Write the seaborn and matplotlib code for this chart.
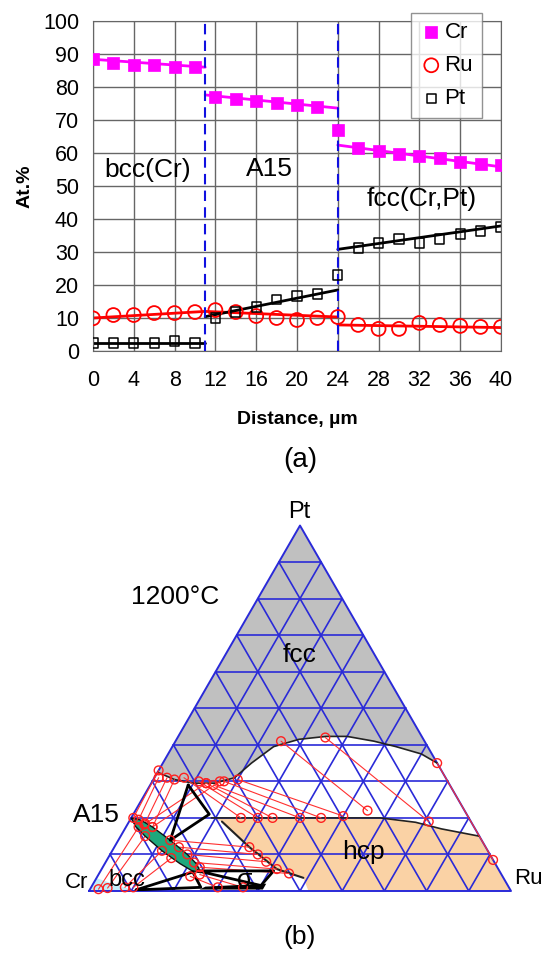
import numpy as np
import pandas as pd
import matplotlib
matplotlib.use("Agg")
import matplotlib.pyplot as plt
import seaborn as sns

sns.set_style("white")
plt.rcParams['font.family'] = ['Liberation Sans', 'DejaVu Sans']
plt.rcParams['text.color'] = 'black'
plt.rcParams['axes.labelcolor'] = 'black'
plt.rcParams['xtick.color'] = 'black'
plt.rcParams['ytick.color'] = 'black'

# ---------------- (a) concentration profile ----------------
dist = [0, 2, 4, 6, 8, 10, 12, 14, 16, 18, 20, 22, 24, 26, 28, 30, 32, 34, 36, 38, 40]
cr = [88.4, 87.3, 86.7, 86.7, 86.1, 86.1, 77.0, 76.4, 75.8, 75.1, 74.5, 73.9, 67.0,
      61.5, 60.6, 59.7, 59.1, 58.5, 57.3, 56.7, 56.4]
ru = [9.9, 10.9, 10.9, 11.5, 11.5, 11.8, 12.4, 11.8, 10.6, 10.0, 9.4, 10.0, 10.3,
      7.9, 6.7, 6.7, 8.5, 7.9, 7.6, 7.3, 7.3]
pt = [2.4, 2.4, 2.4, 2.4, 3.0, 2.4, 10.0, 11.8, 13.3, 15.7, 16.7, 17.3, 23.0,
      31.2, 32.7, 33.9, 32.7, 33.9, 35.5, 36.4, 37.6]

# phase boundaries and fitted trend lines (start, end values per phase)
boundaries = [11, 24]
seg_x = [(0, 11), (11, 24), (24, 40)]
cr_fit = [(88.4, 86.0), (77.6, 73.6), (62.4, 55.8)]
ru_fit = [(10.0, 12.0), (12.0, 10.3), (7.9, 7.1)]
pt_fit = [(2.4, 2.4), (10.4, 18.5), (30.8, 37.9)]
phase_labels = ["bcc(Cr)", "A15", "fcc(Cr,Pt)"]

# ---------------- (b) Cr-Ru-Pt isotherm (at.% Ru, at.% Pt) ----------------
fcc_ru = [0, 5, 10, 15, 19, 21, 24, 29, 35, 40, 47, 53, 60, 65]
fcc_pt = [32.5, 30.5, 29.5, 29.5, 31, 35, 39.5, 41.5, 42.3, 42.3, 41, 39.5, 37.5, 35]
hcp_ru = [19, 30, 45, 59, 68, 75, 85, 100, 52, 49, 41.5, 32, 22]
hcp_pt = [20, 20, 20, 20, 18.8, 17, 15, 0, 0, 3.6, 6, 12, 19]
a15_ru = [0, 2.6, 6.3, 12.3, 18.3, 21.8, 24, 21.5, 17.8, 11.8, 5.8, 2.3]
a15_pt = [20, 19.4, 17.5, 13.9, 10.0, 7.4, 5, 5.6, 7.5, 11.0, 15.0, 17.6]
bcc_ru = [0, 11, 0]
bcc_pt = [0, 0, 3.5]
sigma_ru = [26, 41, 41, 27]
sigma_pt = [0.4, 0.4, 2.0, 1.2]
tri_ru = [[9, 18, 12.3], [23, 41, 40], [11, 22, 26]]
tri_pt = [[29, 21, 13.9], [5.5, 5.5, 1.5], [0.3, 5.2, 1]]
# tie lines: ru1, pt1, ru2, pt2
tie_ru1 = [25, 35, 65, 7, 11, 13, 15, 17, 20, 0, 1, 3, 5, 12.3, 15.3, 18.3, 21, 23,
           2, 4, 8, 10, 22, 24, 13, 16]
tie_pt1 = [41, 42, 35, 31, 30, 29.5, 29, 30, 30.5, 33, 31, 31, 30.5, 13.9, 12, 10, 7.8, 6.5,
           0.5, 0.8, 1, 1, 4, 4.5, 29.5, 30]
tie_ru2 = [55, 71, 91.5, 26, 30, 33.5, 40, 45, 50, 0.5, 2, 4, 6.3, 32, 35, 38, 41.5, 45,
           3, 5.8, 11.8, 15, 30, 36, 4, 6.3]
tie_pt2 = [22, 19, 8.5, 20, 20, 20, 20, 20, 20.5, 20, 19.5, 18.5, 17.5, 12, 10, 8, 6, 4.8,
           17.5, 15, 11, 9, 1, 1, 18.2, 17.5]

H = np.sqrt(3) / 2


def tern(ru_, pt_):
    ru_ = np.asarray(ru_, float) / 100
    pt_ = np.asarray(pt_, float) / 100
    return ru_ + pt_ / 2, pt_ * H


fig = plt.figure(figsize=(5.47, 9.59), dpi=100)
W, HP = 547, 959

# ---- top chart
ax = fig.add_axes([93 / W, 1 - 351 / HP, 408 / W, 330 / HP])
for (x0, x1), c, r, p in zip(seg_x, cr_fit, ru_fit, pt_fit):
    sns.lineplot(x=[x0, x1], y=list(c), color="#ff00ff", lw=2, ax=ax)
    sns.lineplot(x=[x0, x1], y=list(r), color="#ff0000", lw=2, ax=ax)
    sns.lineplot(x=[x0, x1], y=list(p), color="black", lw=2, ax=ax)
sns.scatterplot(x=dist, y=cr, marker="s", s=70, color="#ff00ff", edgecolor="#ff00ff",
                linewidth=0.5, label="Cr", ax=ax, zorder=5)
sns.scatterplot(x=dist, y=ru, marker="o", s=100, facecolors="none", edgecolors="#ff0000",
                linewidth=1.3, label="Ru", ax=ax, zorder=5)
sns.scatterplot(x=dist, y=pt, marker="s", s=45, facecolors="none", edgecolors="black",
                linewidth=1.1, label="Pt", ax=ax, zorder=5)
for b in boundaries:
    ax.axvline(b, color="#1010e0", lw=1.5, ls=(0, (5, 3)), zorder=4)

ax.set_xlim(0, 40)
ax.set_ylim(0, 100)
ax.set_xticks(range(0, 41, 4))
ax.set_yticks(range(0, 101, 10))
ax.grid(True, color="#666666", lw=1)
for s in ax.spines.values():
    s.set_color("#666666")
ax.tick_params(axis="x", labelsize=15.5, length=0, pad=14)
ax.tick_params(axis="y", labelsize=15.5, length=0, pad=10)
ax.set_xlabel("Distance, µm", fontsize=14, fontweight="bold", labelpad=14)
ax.set_ylabel("At.%", fontsize=14, fontweight="bold", labelpad=7)

ax.text(5.4, 55, phase_labels[0], fontsize=19, ha="center", va="center")
ax.text(17.3, 55, phase_labels[1], fontsize=19, ha="center", va="center")
ax.text(32.2, 46, phase_labels[2], fontsize=19, ha="center", va="center")

leg = ax.legend(loc="upper right", bbox_to_anchor=(482 / W, 1 - 13 / HP),
                bbox_transform=fig.transFigure, fontsize=16, frameon=True,
                fancybox=False, edgecolor="#777777", handletextpad=0.1,
                labelspacing=0.55, borderpad=0.4, handlelength=1.0,
                borderaxespad=0)
leg.get_frame().set_linewidth(1)

fig.text(300 / W, 1 - 460 / HP, "(a)", fontsize=20, ha="center", va="center")

# ---- bottom ternary
tx = fig.add_axes([89 / W, 1 - 891 / HP, 422 / W, 422 * H / HP])
tx.set_xlim(0, 1)
tx.set_ylim(0, H)
tx.axis("off")

x, y = tern([0] + fcc_ru + [0], [100] + fcc_pt + [100])
tx.fill(x, y, color="#c0c0c0", lw=0, zorder=1)
x, y = tern(hcp_ru, hcp_pt)
tx.fill(x, y, color="#fad2a5", lw=0, zorder=1)
x, y = tern(bcc_ru, bcc_pt)
tx.fill(x, y, color="#c2eefa", lw=0, zorder=1)

# blue 10 at.% grid
for i in range(1, 10):
    f = i * 10
    for a, b in [(tern([0, 100 - f], [f, f])), (tern([f, f], [0, 100 - f])),
                 (tern([100 - f, 0], [0, 100 - f]))]:
        tx.plot(a, b, color="#2a2ad8", lw=1.2, zorder=2)
x, y = tern([0, 100, 0, 0], [0, 0, 100, 0])
tx.plot(x, y, color="#2a2ad8", lw=1.4, zorder=2, clip_on=False)

x, y = tern(fcc_ru, fcc_pt)
tx.plot(x, y, color="#222222", lw=1.2, zorder=3)
x, y = tern(hcp_ru[:7], hcp_pt[:7])
tx.plot(x, y, color="#222222", lw=1.2, zorder=3)
x, y = tern(hcp_ru[9:], hcp_pt[9:])
tx.plot(x, y, color="#222222", lw=1.5, zorder=3)

for r1, p1, r2, p2 in zip(tie_ru1, tie_pt1, tie_ru2, tie_pt2):
    x, y = tern([r1, r2], [p1, p2])
    tx.plot(x, y, color="#ff3030", lw=0.8, zorder=4)

x, y = tern(a15_ru + a15_ru[:1], a15_pt + a15_pt[:1])
tx.fill(x, y, color="#1fa87d", ec="#111111", lw=1, zorder=5)
x, y = tern(sigma_ru, sigma_pt)
tx.fill(x, y, color="black", lw=0, zorder=5)
for r, p in zip(tri_ru, tri_pt):
    x, y = tern(r + r[:1], p + p[:1])
    tx.plot(x, y, color="black", lw=2, zorder=6)

ends = pd.DataFrame({"ru": tie_ru1 + tie_ru2, "pt": tie_pt1 + tie_pt2})
ex, ey = tern(ends["ru"], ends["pt"])
sns.scatterplot(x=ex, y=ey, marker="o", s=40, facecolors="none", edgecolors="#ff2020",
                linewidth=1, ax=tx, zorder=7, clip_on=False)
tx.set_xlim(0, 1)
tx.set_ylim(0, H)

fig.text(299 / W, 1 - 512 / HP, "Pt", fontsize=17, ha="center", va="center")
fig.text(175 / W, 1 - 597 / HP, "1200°C", fontsize=19, ha="center", va="center")
fig.text(300 / W, 1 - 655 / HP, "fcc", fontsize=19, ha="center", va="center")
fig.text(363 / W, 1 - 852 / HP, "hcp", fontsize=19, ha="center", va="center")
fig.text(96 / W, 1 - 815 / HP, "A15", fontsize=19, ha="center", va="center")
fig.text(88 / W, 1 - 882 / HP, "Cr", fontsize=16, ha="right", va="center")
fig.text(127 / W, 1 - 880 / HP, "bcc", fontsize=17, ha="center", va="center")
fig.text(245 / W, 1 - 880 / HP, "σ", fontsize=18, ha="center", va="center")
fig.text(514 / W, 1 - 879 / HP, "Ru", fontsize=16, ha="left", va="center")
fig.text(300 / W, 1 - 937 / HP, "(b)", fontsize=19, ha="center", va="center")

fig.savefig("out.png", dpi=100)
